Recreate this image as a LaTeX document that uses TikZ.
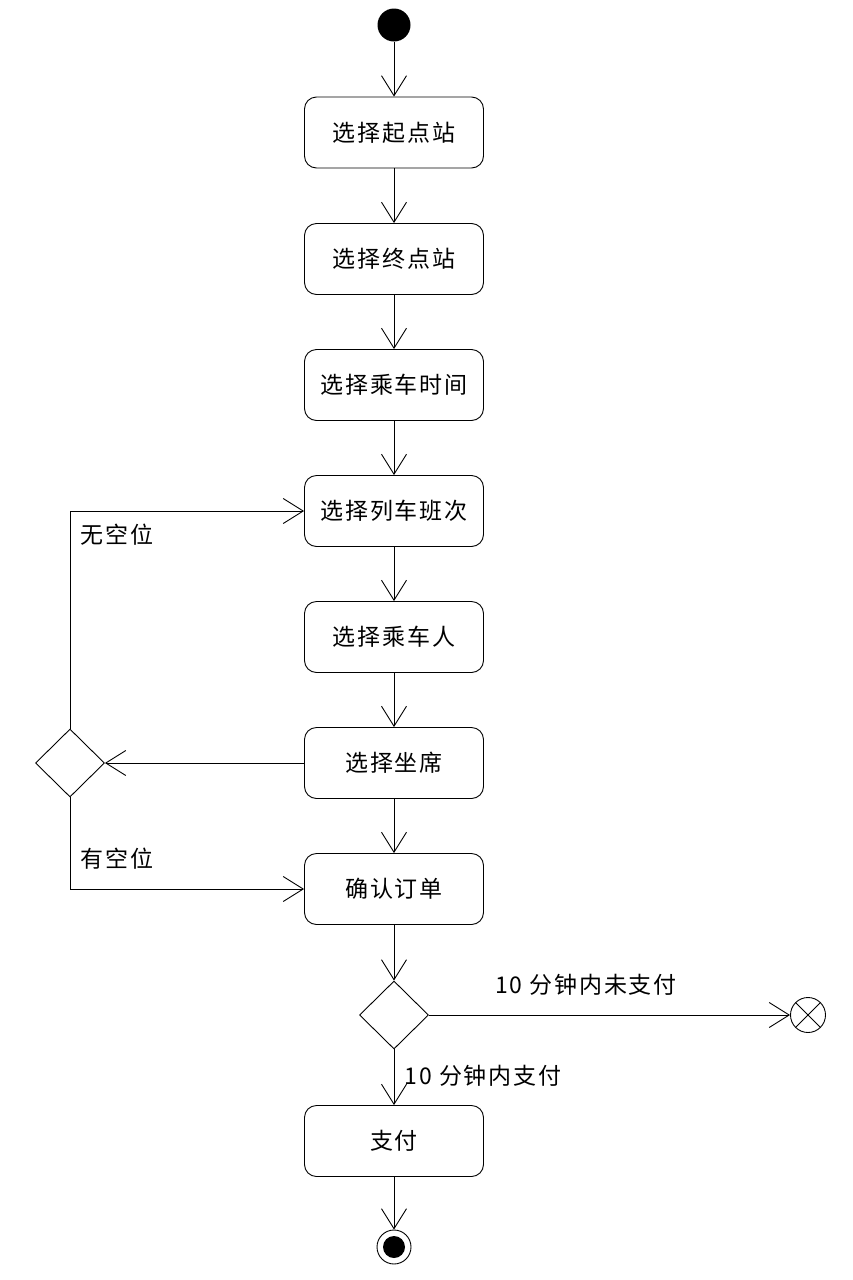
\documentclass[tikz,border=0pt]{standalone}
\usepackage{fontspec}
\setmainfont[LetterSpace=8]{Noto Sans CJK SC}
\usetikzlibrary{arrows.meta,shapes.geometric}

\begin{document}
\begin{tikzpicture}[x=1pt, y=-1pt, line width=0.9pt, >={Straight Barb[length=20pt,width=25pt]},
    font=\fontsize{23}{27}\selectfont,
    action node/.style={rectangle, draw, rounded corners=12pt, minimum width=179pt, minimum height=71pt, inner sep=0pt},
    decision node/.style={diamond, draw, minimum width=69pt, minimum height=68pt, inner sep=0pt},
    start node/.style={circle, fill, minimum size=33pt, inner sep=0pt},
    end node/.style={circle, draw, minimum size=34pt, inner sep=0pt,
        path picture={\fill (path picture bounding box.center) circle (11pt);}},
    flow end/.style={circle, draw, minimum size=35pt, inner sep=0pt,
        path picture={\draw (path picture bounding box.north west) -- (path picture bounding box.south east)
                            (path picture bounding box.south west) -- (path picture bounding box.north east);}}]

    \useasboundingbox (0,0) rectangle (852,1280);

    % Main flow
    \node[start node] (start) at (394,25) {};
    \node[action node] (A1) at (394,132.5) {选择起点站};
    \node[action node] (A2) at (394,259) {选择终点站};
    \node[action node] (A3) at (394,385) {选择乘车时间};
    \node[action node] (A4) at (394,511) {选择列车班次};
    \node[action node] (A5) at (394,637) {选择乘车人};
    \node[action node] (A6) at (394,763) {选择坐席};
    \node[action node] (A7) at (394,889) {确认订单};
    \node[decision node] (D2) at (394,1015) {};
    \node[action node] (A8) at (394,1141) {支付};
    \node[end node] (stop) at (394,1247) {};

    % Seat check
    \node[decision node] (D1) at (70,763) {};
    \node[flow end] (cancel) at (808,1015) {};

    \node[anchor=west] (L1) at (77,535) {无空位};
    \node[anchor=west] (L2) at (77,859) {有空位};
    \node (L3) at (586,985) {10 分钟内未支付};
    \node[anchor=west] (L4) at (401,1076) {10 分钟内支付};

    \draw[->] (start) -- (A1);
    \draw[->] (A1) -- (A2);
    \draw[->] (A2) -- (A3);
    \draw[->] (A3) -- (A4);
    \draw[->] (A4) -- (A5);
    \draw[->] (A5) -- (A6);
    \draw[->] (A6) -- (A7);
    \draw[->] (A7) -- (D2);
    \draw[->] (D2) -- (A8);
    \draw[->] (A8) -- (stop);

    \draw[->] (A6) -- (D1);
    \draw[->] (D1.north) |- (A4.west);
    \draw[->] (D1.south) |- (A7.west);
    \draw[->] (D2.east) -- (cancel);

\end{tikzpicture}
\end{document}
